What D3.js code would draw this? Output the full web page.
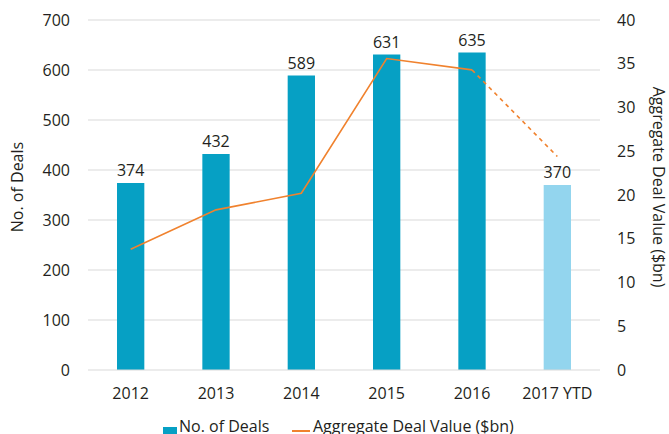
<!DOCTYPE html>
<html><head><meta charset="utf-8">
<script src="https://cdn.jsdelivr.net/npm/d3@7"></script>
<style>body{margin:0;background:#fff;}svg{display:block;font-family:"Open Sans",sans-serif;}</style>
</head><body><svg id="c" width="669" height="434"></svg>
<script>
const categories = ["2012","2013","2014","2015","2016","2017 YTD"];
const deals = [374,432,589,631,635,370];
const dealValue = [13.8,18.3,20.2,35.6,34.3,24.4];
const leftTicks = [0,100,200,300,400,500,600,700];
const rightTicks = [0,5,10,15,20,25,30,35,40];

const svg = d3.select("#c");
const m = {l:88, r:69, t:20, b:64};
const W = 669, H = 434;
const FS = 16;
const x = d3.scaleBand().domain(categories).range([m.l, W-m.r]).paddingInner(0.68).paddingOuter(0.34);
const yL = d3.scaleLinear().domain([0,700]).range([H-m.b, m.t]);
const yR = d3.scaleLinear().domain([0,40]).range([H-m.b, m.t]);
const txt = "#231f20";

// gridlines
svg.append("g").selectAll("line").data(leftTicks.slice(1)).join("line")
  .attr("x1", m.l).attr("x2", W-m.r).attr("y1", d=>yL(d)).attr("y2", d=>yL(d))
  .attr("stroke","#d9d9d9").attr("stroke-width",1);

// left axis
const la = svg.append("g").attr("transform",`translate(${m.l},0)`)
  .call(d3.axisLeft(yL).tickValues(leftTicks).tickSize(0).tickPadding(18));
la.select(".domain").remove();
la.selectAll("text").attr("font-size",FS).attr("fill",txt).attr("font-family","Open Sans");

// right axis
const ra = svg.append("g").attr("transform",`translate(${W-m.r},0)`)
  .call(d3.axisRight(yR).tickValues(rightTicks).tickSize(0).tickPadding(17));
ra.select(".domain").remove();
ra.selectAll("text").attr("font-size",FS).attr("fill",txt).attr("font-family","Open Sans");

// bars
svg.append("g").selectAll("rect").data(categories).join("rect")
  .attr("x", d=>x(d)).attr("width", x.bandwidth())
  .attr("y", (d,i)=>yL(deals[i])).attr("height",(d,i)=>yL(0)-yL(deals[i]))
  .attr("fill",(d,i)=> i===5 ? "#93d5ee" : "#06a0c4");

// bar labels
svg.append("g").selectAll("text").data(categories).join("text")
  .attr("x", d=>x(d)+x.bandwidth()/2).attr("y",(d,i)=>yL(deals[i])-7)
  .attr("text-anchor","middle").attr("font-size",FS).attr("fill",txt)
  .text((d,i)=>deals[i]);

// x axis line
svg.append("line").attr("x1",m.l).attr("x2",W-m.r).attr("y1",yL(0)).attr("y2",yL(0))
  .attr("stroke","#d9d9d9").attr("stroke-width",1);
const xa = svg.append("g").attr("transform",`translate(0,${yL(0)})`)
  .call(d3.axisBottom(x).tickSize(0).tickPadding(18));
xa.select(".domain").remove();
xa.selectAll("text").attr("font-size",FS).attr("fill",txt).attr("font-family","Open Sans");

// line
const pts = categories.map((c,i)=>[x(c)+x.bandwidth()/2, yR(dealValue[i])]);
const line = d3.line();
svg.append("path").attr("d", line(pts.slice(0,5))).attr("fill","none")
  .attr("stroke","#f0822e").attr("stroke-width",1.6);
svg.append("path").attr("d", line(pts.slice(4))).attr("fill","none")
  .attr("stroke","#f0822e").attr("stroke-width",1.6).attr("stroke-dasharray","4,4");

// axis titles
svg.append("text").attr("transform",`translate(23,187) rotate(-90)`)
  .attr("text-anchor","middle").attr("font-size",FS).attr("fill",txt).text("No. of Deals");
svg.append("text").attr("transform",`translate(653,187) rotate(90)`)
  .attr("text-anchor","middle").attr("font-size",FS).attr("fill",txt).text("Aggregate Deal Value ($bn)");

// legend
const lg = svg.append("g");
lg.append("rect").attr("x",163).attr("y",427).attr("width",14).attr("height",14).attr("fill","#06a0c4");
lg.append("text").attr("x",179).attr("y",432).attr("font-size",FS).attr("fill",txt).text("No. of Deals");
lg.append("line").attr("x1",292).attr("x2",310).attr("y1",431).attr("y2",431).attr("stroke","#f0822e").attr("stroke-width",2);
lg.append("text").attr("x",313).attr("y",432).attr("font-size",FS).attr("fill",txt).text("Aggregate Deal Value ($bn)");
</script></body></html>
